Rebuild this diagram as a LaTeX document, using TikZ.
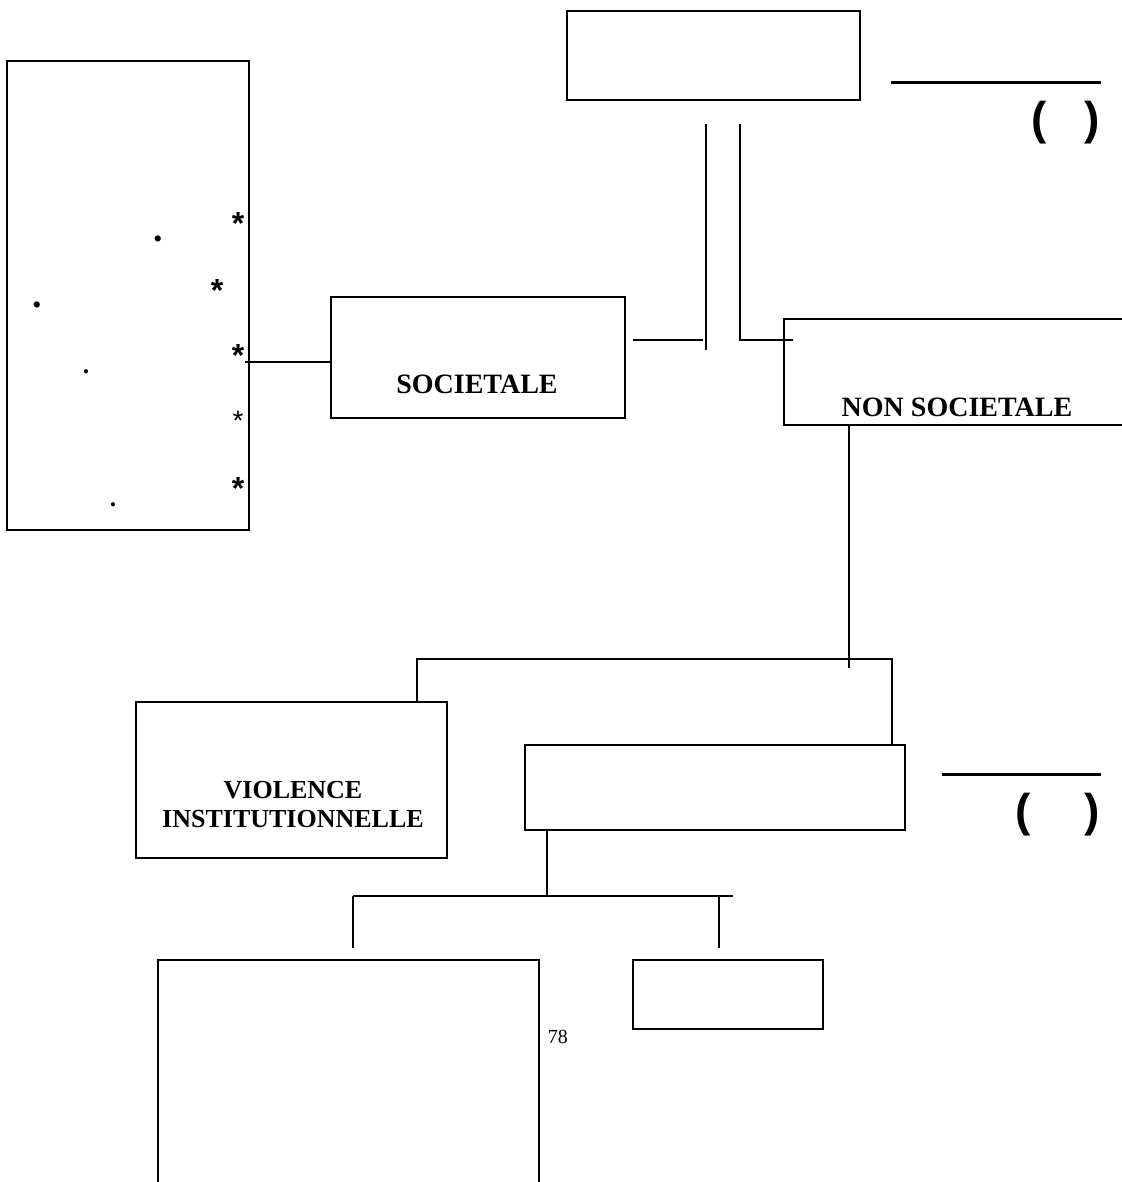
\documentclass[tikz,border=0pt]{standalone}
\usepackage{fontspec}
\setmainfont{Liberation Serif}
\setsansfont{Liberation Sans}

\begin{document}
\begin{tikzpicture}[x=1pt, y=-1pt, line width=1.5pt,
	box/.style={draw, line width=2pt, inner sep=0pt},
	boxtext/.style={font=\fontsize{28}{30}\selectfont\bfseries, anchor=base, inner sep=0pt, align=center},
	starmark/.style={font=\sffamily\fontsize{32}{34}\selectfont\bfseries, anchor=base, inner sep=0pt},
	paren/.style={font=\sffamily\fontsize{46}{48}\selectfont\bfseries, anchor=base, inner sep=0pt},
	rule/.style={line width=3pt}]
	\useasboundingbox (0,0) rectangle (1121,1182);

	%boxes: name / centre x / centre y / width / height
	\foreach \name / \x / \y / \w / \h in {attrib/128/295.5/242/469, top/713.5/55.5/293/89,
		soc/478/357.5/294/121, nonsoc/957/372/346/106, viol/291.5/780/311/156,
		mid/715/787.5/380/85, big/348.5/1077.5/381/235, small/728/994.5/190/69}{
	\node[box, minimum width=\w, minimum height=\h] (\name) at (\x,\y) {};}

	%texts in the boxes
	\node[boxtext] (tsoc) at (477,393) {SOCIETALE};
	\node[boxtext] (tnonsoc) at (957,416) {NON SOCIETALE};
	\node[boxtext, font=\fontsize{26}{29}\selectfont\bfseries] (tviol) at (293,827) {VIOLENCE\\INSTITUTIONNELLE};

	%stars and dots in the left box
	\foreach \n / \x / \y in {1/238/235,2/217/301,3/238/366,5/238/499}{
	\node[starmark] (s\n) at (\x,\y) {*};}
	\node[starmark, font=\sffamily\fontsize{28}{30}\selectfont] (s4) at (238,430) {*};
	\foreach \n / \x / \y / \s in {1/158/241/38,2/37/307/38,3/86/373/26,4/113/506/26}{
	\node[anchor=base, inner sep=0pt, font=\fontsize{\s}{\s}\selectfont\bfseries] (d\n) at (\x,\y) {.};}

	%define coordinates for connectors
	\coordinate (a0) at (245,362);
	\coordinate (b0) at (633,340); \coordinate (b1) at (703,340);
	\coordinate (p0) at (706,124); \coordinate (p1) at (706,350);
	\coordinate (q0) at (740,124); \coordinate (q1) at (740,340); \coordinate (q2) at (793,340);
	\coordinate (n0) at (849,668);
	\coordinate (v0) at (417,659); \coordinate (v1) at (892,659);
	\coordinate (m0) at (547,896);
	\coordinate (w0) at (353,896); \coordinate (w1) at (733,896);
	\coordinate (w2) at (353,948); \coordinate (w3) at (719,896); \coordinate (w4) at (719,948);

	%draw connectors
	\draw (a0) -- (a0 -| soc.west);
	\draw (b0) -- (b1);
	\draw (p0) -- (p1);
	\draw (q0) -- (q1) -- (q2);
	\draw (nonsoc.south -| n0) -- (n0);
	\draw (viol.north -| v0) -- (v0) -- (v1) -- (mid.north -| v1);
	\draw (mid.south -| m0) -- (m0);
	\draw (w0) -- (w1);
	\draw (w0) -- (w2);
	\draw (w3) -- (w4);

	%lines and brackets on the right
	\coordinate (r0) at (891,83); \coordinate (r1) at (1101,83);
	\coordinate (r2) at (942,774); \coordinate (r3) at (1101,774);
	\draw[rule] (r0) -- (r1);
	\draw[rule] (r2) -- (r3);
	\node[paren] (o1) at (1039,135) {(};
	\node[paren] (c1) at (1092,135) {)};
	\node[paren] (o2) at (1023,826) {(};
	\node[paren] (c2) at (1092,826) {)};

	\node[anchor=base west, inner sep=0pt, font=\fontsize{20}{22}\selectfont] (page) at (547,1043) {78};

\end{tikzpicture}
\end{document}
